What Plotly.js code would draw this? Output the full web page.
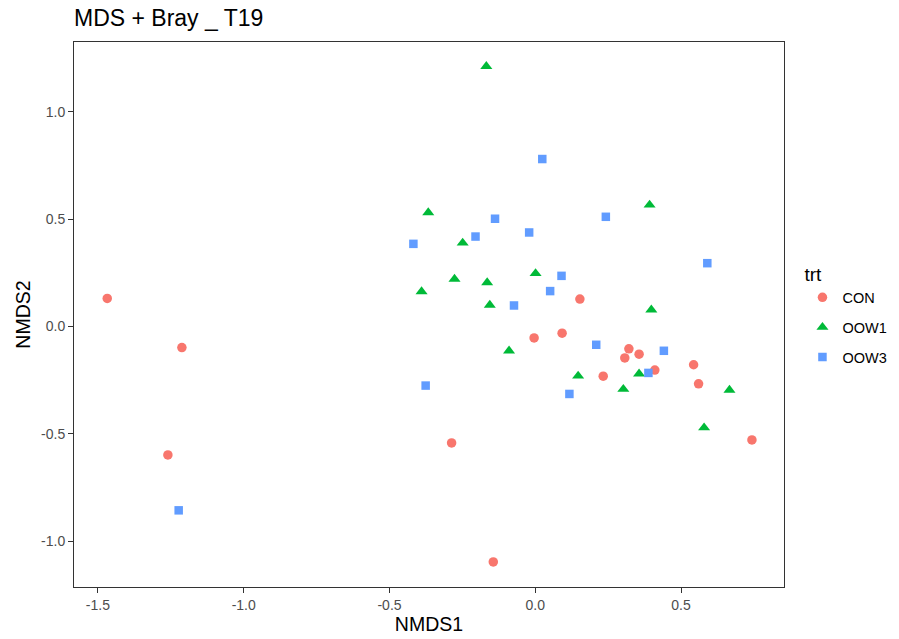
<!DOCTYPE html>
<html>
<head>
<meta charset="utf-8">
<script src="https://cdn.plot.ly/plotly-3.0.1.min.js"></script>
<style>html,body{margin:0;padding:0;background:#fff}#chart{width:899px;height:639px}</style>
</head>
<body>
<div id="chart"></div>
<script>
// CON
const conX = [-1.468, -1.212, -1.260, -0.287, -0.144, -0.004, 0.092, 0.153, 0.321, 0.307, 0.356, 0.410, 0.233, 0.543, 0.560, 0.743];
const conY = [0.131, -0.098, -0.598, -0.542, -1.096, -0.053, -0.031, 0.128, -0.104, -0.146, -0.129, -0.203, -0.231, -0.178, -0.267, -0.528];
// OOW1
const oow1X = [-0.168, -0.367, 0.392, -0.249, -0.277, -0.165, 0.001, -0.390, -0.156, 0.398, -0.090, 0.356, 0.147, 0.302, 0.666, 0.579];
const oow1Y = [1.212, 0.531, 0.566, 0.389, 0.221, 0.205, 0.247, 0.163, 0.100, 0.078, -0.113, -0.220, -0.230, -0.292, -0.296, -0.471];
// OOW3
const oow3X = [0.024, -0.138, 0.242, -0.021, -0.205, -0.418, 0.590, 0.090, 0.051, -0.073, 0.209, 0.441, 0.388, -0.376, 0.117, -1.223];
const oow3Y = [0.780, 0.502, 0.511, 0.438, 0.419, 0.385, 0.295, 0.236, 0.165, 0.098, -0.085, -0.113, -0.216, -0.275, -0.314, -0.856];

const xTickVals = [-1.5, -1.0, -0.5, 0.0, 0.5];
const xTickText = ["-1.5", "-1.0", "-0.5", "0.0", "0.5"];
const yTickVals = [-1.0, -0.5, 0.0, 0.5, 1.0];
const yTickText = ["-1.0", "-0.5", "0.0", "0.5", "1.0"];

const FONT = '"Liberation Sans", Arial, sans-serif';

const traces = [
  {x: conX, y: conY, name: 'CON', type: 'scatter', mode: 'markers', legendgroup: 'a',
   marker: {symbol: 'circle', size: 9.5, color: '#F8766D'}},
  {x: oow1X, y: oow1Y, name: 'OOW1', type: 'scatter', mode: 'markers', legendgroup: 'b',
   marker: {symbol: 'triangle-up', size: 10.5, color: '#00BA38'}},
  {x: oow3X, y: oow3Y, name: 'OOW3', type: 'scatter', mode: 'markers', legendgroup: 'c',
   marker: {symbol: 'square', size: 8.5, color: '#619CFF'}}
];

const axisCommon = {
  showgrid: false, zeroline: false, showline: true, mirror: true,
  linecolor: '#333333', linewidth: 1, ticks: 'outside', ticklen: 5,
  tickcolor: '#333333', tickwidth: 1,
  tickfont: {family: FONT, size: 14, color: '#4D4D4D'},
  tickmode: 'array', automargin: false
};

const layout = {
  width: 899, height: 639,
  paper_bgcolor: '#ffffff', plot_bgcolor: '#ffffff',
  font: {family: FONT, color: '#000000'},
  margin: {l: 73.5, r: 115, t: 42, b: 52, pad: 0, autoexpand: false},
  title: {text: 'MDS + Bray _ T19', font: {family: FONT, size: 23, color: '#000000'},
          xref: 'container', yref: 'container', x: 74/899, xanchor: 'left', y: 1 - 18/639, yanchor: 'middle'},
  xaxis: Object.assign({}, axisCommon, {
    range: [-1.582, 0.853], tickvals: xTickVals, ticktext: xTickText,
    title: {text: 'NMDS1', font: {family: FONT, size: 19.5, color: '#000000'}, standoff: 1}
  }),
  yaxis: Object.assign({}, axisCommon, {
    range: [-1.213, 1.325], tickvals: yTickVals, ticktext: yTickText,
    title: {text: 'NMDS2', font: {family: FONT, size: 19.5, color: '#000000'}, standoff: 5}
  }),
  showlegend: true,
  legend: {
    x: 1.026, xanchor: 'left', y: 0.606, yanchor: 'top',
    font: {family: FONT, size: 14.5, color: '#000000'},
    title: {text: 'trt', font: {family: FONT, size: 19, color: '#000000'}},
    tracegroupgap: 8, bgcolor: 'rgba(0,0,0,0)'
  }
};

Plotly.newPlot('chart', traces, layout, {displayModeBar: false, staticPlot: true});
</script>
</body>
</html>
